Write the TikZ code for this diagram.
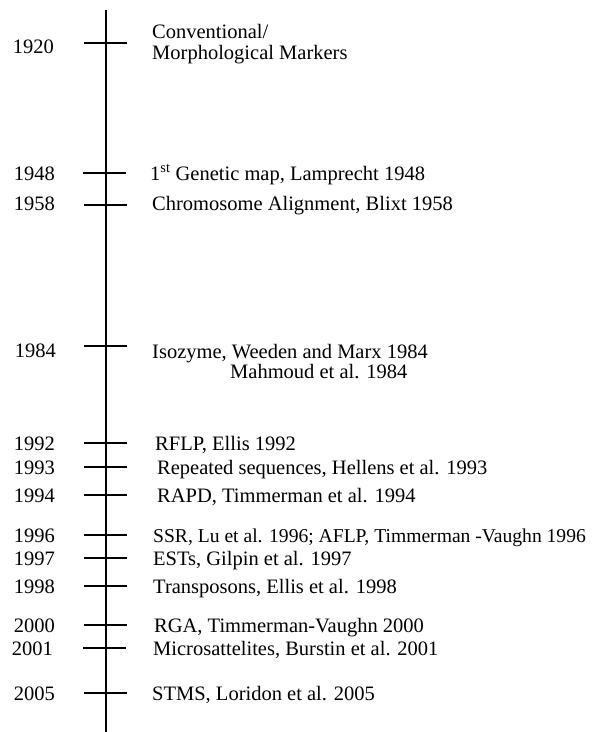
\documentclass[tikz,border=0pt]{standalone}
\usepackage{fontspec}
\setmainfont{Liberation Serif}
\usetikzlibrary{positioning}

\begin{document}
\begin{tikzpicture}[
  x=1pt,y=1pt,
  every node/.style={font=\fontsize{20.5}{21}\selectfont},
  yearnode/.style={inner sep=0pt,text height=14pt,text depth=0pt},
  eventnode/.style={inner sep=0pt,text height=14pt,text depth=0pt},
  ]
  \tikzset{%
    axisline/.style={
      line width=1.1pt,
    },
    tickline/.style={
      line width=1.1pt,
    },
  }
  \useasboundingbox (0,0) rectangle (601,-732);
  %Axis
  \coordinate (top) at (106,-10);
  \coordinate (bottom) at (106,-732);
  %Ticks
  \coordinate (a1920) at (84,-43);  \coordinate (b1920) at (127,-43);
  \coordinate (a1948) at (83,-173); \coordinate (b1948) at (126,-173);
  \coordinate (a1958) at (84,-205); \coordinate (b1958) at (127,-205);
  \coordinate (a1984) at (84,-346); \coordinate (b1984) at (127,-346);
  \coordinate (a1992) at (84,-443); \coordinate (b1992) at (127,-443);
  \coordinate (a1993) at (84,-467); \coordinate (b1993) at (127,-467);
  \coordinate (a1994) at (84,-495); \coordinate (b1994) at (127,-495);
  \coordinate (a1996) at (84,-535); \coordinate (b1996) at (127,-535);
  \coordinate (a1997) at (84,-558); \coordinate (b1997) at (127,-558);
  \coordinate (a1998) at (84,-586); \coordinate (b1998) at (127,-586);
  \coordinate (a2000) at (84,-625); \coordinate (b2000) at (127,-625);
  \coordinate (a2001) at (83,-648); \coordinate (b2001) at (126,-648);
  \coordinate (a2005) at (84,-693); \coordinate (b2005) at (127,-693);
  %Years
  \node[yearnode,left=30pt of a1920,yshift=-3pt](y1920){1920};
  \node[yearnode,left=28pt of a1948](y1948){1948};
  \node[yearnode,left=29pt of a1958,yshift=1.5pt](y1958){1958};
  \node[yearnode,left=28pt of a1984,yshift=-4.5pt](y1984){1984};
  \node[yearnode,left=29pt of a1992](y1992){1992};
  \node[yearnode,left=29pt of a1993](y1993){1993};
  \node[yearnode,left=29pt of a1994](y1994){1994};
  \node[yearnode,left=29pt of a1996](y1996){1996};
  \node[yearnode,left=29pt of a1997](y1997){1997};
  \node[yearnode,left=29pt of a1998](y1998){1998};
  \node[yearnode,left=29pt of a2000](y2000){2000};
  \node[yearnode,left=30pt of a2001](y2001){2001};
  \node[yearnode,left=29pt of a2005](y2005){2005};
  %Events
  \node[inner sep=0pt,align=left,anchor=west,right=25pt of b1920,yshift=-1pt](e1920){Conventional/\\Morphological Markers};
  \node[eventnode,right=24pt of b1948](e1948){1\textsuperscript{st} Genetic map, Lamprecht 1948};
  \node[eventnode,right=25pt of b1958,yshift=1.5pt](e1958){Chromosome Alignment, Blixt 1958};
  \node[eventnode,right=25pt of b1984,yshift=-5pt](e1984){Isozyme, Weeden and Marx 1984};
  \node[eventnode,below=6pt of e1984.south west,anchor=north west,xshift=78pt](e1984b){Mahmoud et al. 1984};
  \node[eventnode,right=28pt of b1992](e1992){RFLP, Ellis 1992};
  \node[eventnode,right=30pt of b1993](e1993){Repeated sequences, Hellens et al. 1993};
  \node[eventnode,right=30pt of b1994](e1994){RAPD, Timmerman et al. 1994};
  \node[eventnode,right=26pt of b1996,font=\fontsize{19.6}{21}\selectfont](e1996){SSR, Lu et al. 1996; AFLP, Timmerman -Vaughn 1996};
  \node[eventnode,right=26pt of b1997](e1997){ESTs, Gilpin et al. 1997};
  \node[eventnode,right=26pt of b1998](e1998){Transposons, Ellis et al. 1998};
  \node[eventnode,right=27pt of b2000](e2000){RGA, Timmerman-Vaughn 2000};
  \node[eventnode,right=27pt of b2001](e2001){Microsattelites, Burstin et al. 2001};
  \node[eventnode,right=25pt of b2005](e2005){STMS, Loridon et al. 2005};
  %Lines
  \draw[axisline] (top) -- (bottom);
  \draw[tickline]
    (a1920) edge (b1920)
    (a1948) edge (b1948)
    (a1958) edge (b1958)
    (a1984) edge (b1984)
    (a1992) edge (b1992)
    (a1993) edge (b1993)
    (a1994) edge (b1994)
    (a1996) edge (b1996)
    (a1997) edge (b1997)
    (a1998) edge (b1998)
    (a2000) edge (b2000)
    (a2001) edge (b2001)
    (a2005) edge (b2005)
    ;
\end{tikzpicture}
\end{document}
